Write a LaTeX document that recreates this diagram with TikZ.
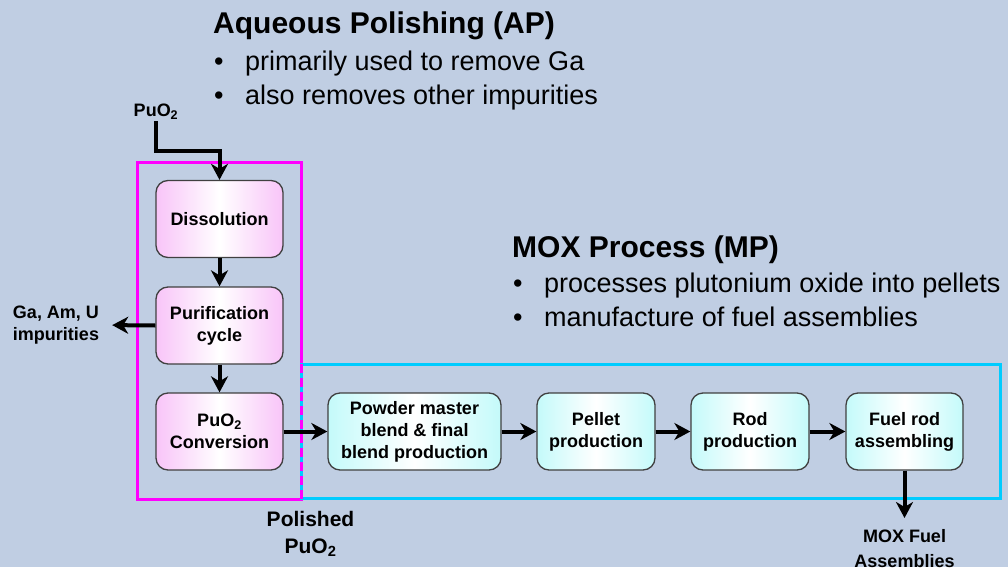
\documentclass[tikz,border=0pt]{standalone}
\usepackage{fontspec}
\setmainfont{Liberation Sans}
\usetikzlibrary{arrows.meta,positioning}

\definecolor{bgblue}{RGB}{192,206,227}
\definecolor{polpink}{RGB}{248,196,248}
\definecolor{moxcyan}{RGB}{196,250,250}
\definecolor{apframe}{RGB}{255,0,255}
\definecolor{mpframe}{RGB}{0,204,255}

\newcommand{\boxfont}{\fontsize{18}{22}\selectfont\bfseries}
\newcommand{\outfont}{\fontsize{18}{25}\selectfont\bfseries}
\newcommand{\bigboxfont}{\fontsize{21}{27}\selectfont\bfseries}
\newcommand{\headfont}{\fontsize{30}{34}\selectfont\bfseries}
\newcommand{\itemfont}{\fontsize{27}{34}\selectfont}
\newcommand{\bulletmark}{\makebox[32pt][l]{\hspace{1pt}\textbullet}}

\begin{document}
\begin{tikzpicture}[x=1pt,y=-1pt,
  polbox/.style={rectangle,rounded corners=12pt,draw=black!75,line width=1.3pt,
    minimum width=127pt,minimum height=77pt,align=center,font=\boxfont,
    left color=polpink,right color=polpink,middle color=white},
  moxbox/.style={polbox,left color=moxcyan,right color=moxcyan,middle color=white,
    minimum width=118pt},
  lbl/.style={align=center,font=\boxfont,inner sep=1pt},
  head/.style={anchor=base west,inner sep=0pt,font=\headfont},
  item/.style={anchor=base west,inner sep=0pt,font=\itemfont},
  flow/.style={-{Stealth[length=16pt,width=17pt,inset=5pt]},line width=4pt}]

% background
\fill[bgblue] (0,0) rectangle (1008,567);
\useasboundingbox (0,0) rectangle (1008,567);

% headings
\node[head] (aphead) at (213,34) {Aqueous Polishing (AP)};
\node[item] (ap1) at (213,71) {\bulletmark primarily used to remove Ga};
\node[item] (ap2) at (213,105) {\bulletmark also removes other impurities};

\node[head] (mphead) at (512,257) {MOX Process (MP)};
\node[item] (mp1) at (512,292) {\bulletmark processes plutonium oxide into pellets};
\node[item] (mp2) at (512,326) {\bulletmark manufacture of fuel assemblies};

% process frames
\draw[apframe,line width=3pt] (137,162) rectangle (301,499);
\draw[mpframe,line width=3pt] (301,364) rectangle (1000,498);
\draw[apframe,line width=3pt,dash pattern=on 9pt off 5pt] (301,364) -- (301,499);

% polishing steps
\node[polbox] (diss) at (219.5,219) {Dissolution};
\node[polbox] (puri) at (219.5,325.5) {Purification\\cycle};
\node[polbox] (conv) at (219.5,431.5) {PuO\textsubscript{2}\\Conversion};

% fuel fabrication steps
\node[moxbox,minimum width=173pt] (blend) at (414.5,431.5) {Powder master\\blend \& final\\blend production};
\node[moxbox] (pellet) at (596,431.5) {Pellet\\production};
\node[moxbox] (rod) at (750,431.5) {Rod\\production};
\node[moxbox,minimum width=117pt] (fuel) at (904.5,431.5) {Fuel rod\\assembling};

% inputs and outputs
\node[lbl,anchor=south] (puin) at (156,121) {PuO\textsubscript{2}};
\node[lbl] (imp) at (56,325) {Ga, Am, U\\impurities};
\node[lbl,font=\bigboxfont,anchor=base] (polished) at (310.5,553) {Polished\\PuO\textsubscript{2}};
\node[lbl,font=\outfont,anchor=north] (moxfuel) at (904.5,528) {MOX Fuel\\Assemblies};
\coordinate (bend) at (219.5,151);

% arrows
\draw[flow] (puin.south) |- (bend) -- (diss.north);
\draw[flow] (diss.south) -- (puri.north);
\draw[flow] (puri.south) -- (conv.north);
\draw[flow,shorten >=12pt] (puri.west) -- (imp.east);
\draw[flow] (conv.east) -- (blend.west);
\draw[flow] (blend.east) -- (pellet.west);
\draw[flow] (pellet.east) -- (rod.west);
\draw[flow] (rod.east) -- (fuel.west);
\draw[flow,shorten >=10pt] (fuel.south) -- (moxfuel.north);
\end{tikzpicture}
\end{document}
